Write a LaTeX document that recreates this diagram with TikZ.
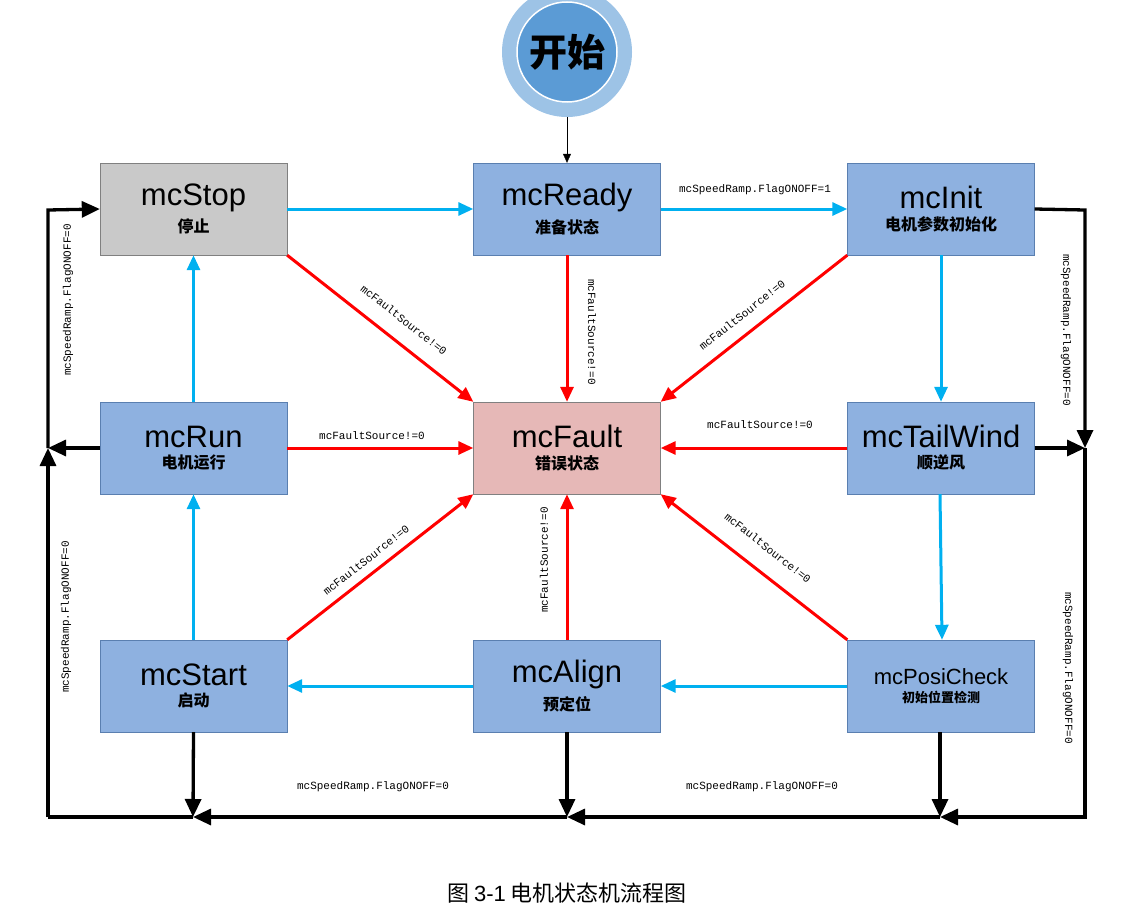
\documentclass[tikz,border=0pt]{standalone}
\usepackage{fontspec}
\setmainfont{Liberation Sans}
\newfontfamily\cjk{Noto Sans CJK SC}
\newfontfamily\lbl{Liberation Mono}
\usetikzlibrary{arrows.meta}
\definecolor{bfill}{HTML}{8EB1E0}
\definecolor{bdraw}{HTML}{5A7FB0}
\definecolor{barrow}{HTML}{00B0F0}
\definecolor{ffill}{HTML}{E6B8B7}
\definecolor{sfill}{HTML}{C9C9C9}
\definecolor{ring}{HTML}{9DC3E6}
\definecolor{core}{HTML}{5B9BD5}
\newcommand{\snm}{\fontsize{31}{33}\selectfont}
\newcommand{\ssub}{\cjk\bfseries\fontsize{16}{18}\selectfont}
\begin{document}
\begin{tikzpicture}[x=1pt,y=-1pt,line join=miter,
  st/.style={draw=bdraw,fill=bfill,minimum width=187pt,minimum height=92pt,inner sep=0pt,align=center},
  blue/.style={draw=barrow,line width=3pt,-{Triangle[length=15pt,width=13pt]}},
  red/.style={draw=red,line width=3pt,-{Triangle[length=15pt,width=13pt]}},
  blk/.style={draw=black,line width=3.3pt,-{Triangle[length=18pt,width=16pt]}},
  bl/.style={draw=black,line width=3.3pt},
  lab/.style={font=\lbl\fontsize{11}{12}\selectfont,inner sep=1pt}]
\useasboundingbox (0,0) rectangle (1140,915);
% start circle
\node[circle,fill=ring,minimum size=130pt] (ring) at (567,52) {};
\node[circle,fill=core,draw=white,line width=1.5pt,minimum size=100pt,font=\cjk\bfseries\fontsize{38}{40}\selectfont] (start) at (567,52) {开始};
\coordinate (cs) at (567,117);
% states
\node[st,fill=sfill,draw=gray] (stop) at (193.5,209) {{\snm mcStop}\\[6pt]{\ssub 停止}};
\node[st] (ready) at (567,209) {{\snm mcReady}\\[6pt]{\ssub 准备状态}};
\node[st] (init) at (941,209) {{\snm mcInit}\\[6pt]{\ssub 电机参数初始化}};
\node[st] (run) at (193.5,448) {{\snm mcRun}\\[6pt]{\ssub 电机运行}};
\node[st,fill=ffill,draw=gray] (fault) at (567,448) {{\snm mcFault}\\[6pt]{\ssub 错误状态}};
\node[st] (tail) at (941,448) {{\snm mcTailWind}\\[6pt]{\ssub 顺逆风}};
\node[st] (mstart) at (193.5,686) {{\snm mcStart}\\[6pt]{\ssub 启动}};
\node[st] (align) at (567,686) {{\snm mcAlign}\\[6pt]{\ssub 预定位}};
\node[st] (posi) at (941,686) {{\fontsize{22}{24}\selectfont mcPosiCheck}\\[6pt]{\cjk\bfseries\fontsize{13}{15}\selectfont 初始位置检测}};
% start -> ready
\draw[-{Triangle[length=9pt,width=8pt]},thin] (cs) -- (ready.north);
% blue
\draw[blue] (stop.east) -- (ready.west);
\draw[blue] (ready.east) -- (init.west);
\draw[blue] (init.south) -- (tail.north);
\draw[blue] ([xshift=-1pt]tail.south) -- ([xshift=1pt]posi.north);
\draw[blue] (posi.west) -- (align.east);
\draw[blue] (align.west) -- (mstart.east);
\draw[blue] (mstart.north) -- (run.south);
\draw[blue] (run.north) -- (stop.south);
% red
\draw[red] (stop.south east) -- (fault.north west);
\draw[red] (ready.south) -- (fault.north);
\draw[red] (init.south west) -- (fault.north east);
\draw[red] (run.east) -- (fault.west);
\draw[red] (tail.west) -- (fault.east);
\draw[red] (mstart.north east) -- (fault.south west);
\draw[red] (align.north) -- (fault.south);
\draw[red] (posi.north west) -- (fault.south east);
% labels
\node[lab] (l1) at (755,190) {mcSpeedRamp.FlagONOFF=1};
\node[lab,rotate=-38] (l2) at (404,320) {mcFaultSource!=0};
\node[lab,rotate=-90] (l3) at (592,332) {mcFaultSource!=0};
\node[lab,rotate=38] (l4) at (742,315) {mcFaultSource!=0};
\node[lab] (l5) at (372,436) {mcFaultSource!=0};
\node[lab] (l6) at (760,425) {mcFaultSource!=0};
\node[lab,rotate=38] (l7) at (366,560) {mcFaultSource!=0};
\node[lab,rotate=90] (l8) at (544,560) {mcFaultSource!=0};
\node[lab,rotate=-38] (l9) at (768,548) {mcFaultSource!=0};
\node[lab,rotate=90] (l10) at (68,300) {mcSpeedRamp.FlagONOFF=0};
\node[lab,rotate=90] (l11) at (66,617) {mcSpeedRamp.FlagONOFF=0};
\node[lab,rotate=-90] (l12) at (1066,330) {mcSpeedRamp.FlagONOFF=0};
\node[lab,rotate=-90] (l13) at (1068,668) {mcSpeedRamp.FlagONOFF=0};
\node[lab] (l14) at (373,787) {mcSpeedRamp.FlagONOFF=0};
\node[lab] (l15) at (762,787) {mcSpeedRamp.FlagONOFF=0};
% black loop
\coordinate (LT) at (48,210);
\coordinate (LM) at (48,448);
\coordinate (LB) at (48,817);
\coordinate (RT) at (1085,210);
\coordinate (RM) at (1085,448);
\coordinate (RB) at (1085,817);
\coordinate (B1) at (193,817);
\coordinate (B2) at (567,817);
\coordinate (B3) at (940,817);
\draw[blk] (LM) -- (LT) -- (stop.west);
\draw[blk] (run.west) -- (LM);
\draw[blk] (LB) -- (LM);
\draw[blk] (init.east) -- (RT) -- (RM);
\draw[blk] (tail.east) -- (RM);
\draw[blk] (RM) -- (RB) -- (B3);
\draw[blk] (B3) -- (B2);
\draw[blk] (B2) -- (B1);
\draw[bl] (B1) -- (LB);
\draw[blk] (mstart.south) -- (B1);
\draw[blk] (align.south) -- (B2);
\draw[blk] ([xshift=-1pt]posi.south) -- (B3);
% caption
\node[font=\cjk\fontsize{22}{24}\selectfont] (cap) at (567,893) {图 {\rmfamily 3-1} 电机状态机流程图};
\end{tikzpicture}
\end{document}
